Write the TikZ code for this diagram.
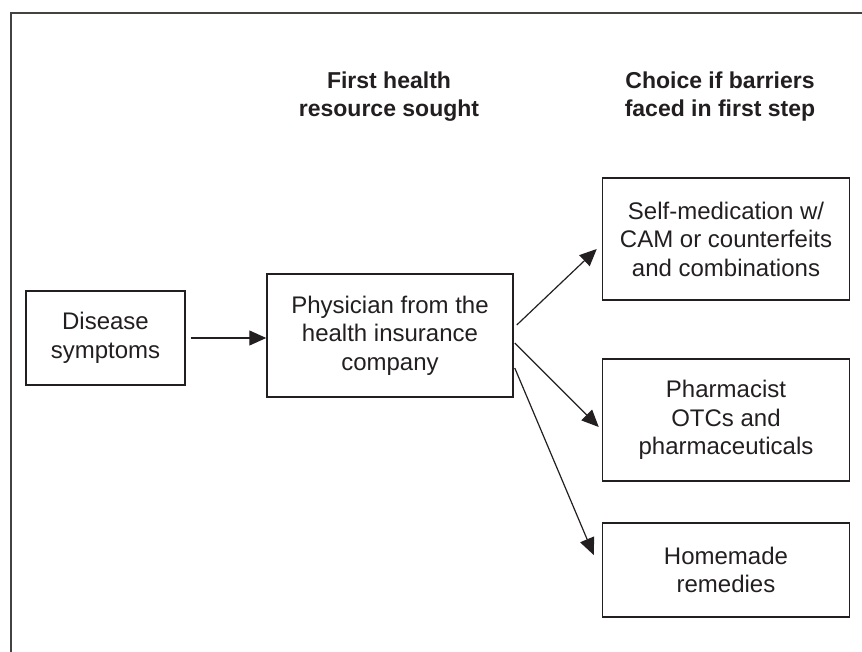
\documentclass[tikz,border=0pt]{standalone}
\usepackage{fontspec}
\setmainfont{Liberation Sans}
\usetikzlibrary{arrows.meta}
\definecolor{ink}{HTML}{231F20}
\begin{document}
\begin{tikzpicture}[x=1pt,y=-1pt,
  stagebox/.style={draw=ink, line width=1.5pt, text=ink, align=center, inner sep=0pt,
    font=\fontsize{24}{28.5}\selectfont},
  header/.style={text=ink, align=center, inner sep=0pt,
    font=\fontsize{23}{28}\selectfont\bfseries},
  flow/.style={draw=ink, line width=1.2pt, -{Triangle[length=17pt,width=15pt]}},
  frame/.style={draw=ink!85, line width=2pt}]
\useasboundingbox (0,0) rectangle (862,652);

% open frame: top and left rules
\draw[frame] (11,652) -- (11,13) -- (862,13);

% column headings
\node[header] (h1) at (389,97) {First health\\resource sought};
\node[header] (h2) at (720,97) {Choice if barriers\\faced in first step};

% boxes
\node[stagebox, minimum width=159pt, minimum height=94pt] (disease) at (105.5,338)
  {Disease\\symptoms};
\node[stagebox, minimum width=246pt, minimum height=123pt] (phys) at (390,335.5)
  {Physician from the\\health insurance\\company};
\node[stagebox, minimum width=247pt, minimum height=122pt] (self) at (726,239)
  {Self-medication w/\\CAM or counterfeits\\and combinations};
\node[stagebox, minimum width=247pt, minimum height=122pt] (pharm) at (726,420)
  {Pharmacist\\OTCs and\\pharmaceuticals};
\node[stagebox, minimum width=247pt, minimum height=94pt] (home) at (726,570)
  {Homemade\\remedies};

% connectors
\draw[flow, shorten <=5pt] (disease.east) -- (disease.east -| phys.west);
\draw[flow] ([shift={(3,-10.5)}]phys.east) -- ([shift={(-5,10)}]self.west);
\draw[flow] ([shift={(1,7.5)}]phys.east) -- ([shift={(-3,7)}]pharm.west);
\draw[flow] ([shift={(1,32.5)}]phys.east) -- ([shift={(-8,-15)}]home.west);
\end{tikzpicture}
\end{document}
